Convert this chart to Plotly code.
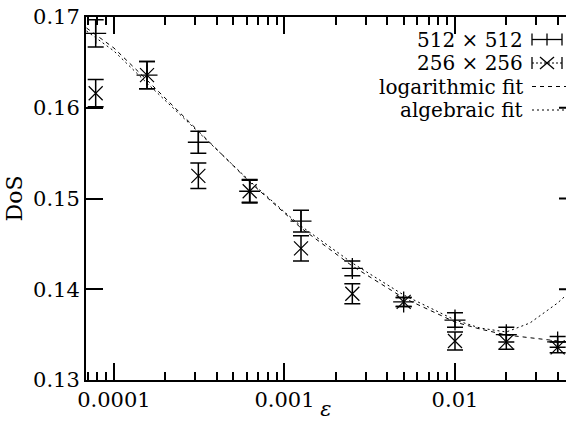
import plotly.graph_objects as go

# ---- data ----
eps = [0.000078125, 0.00015625, 0.0003125, 0.000625, 0.00125, 0.0025, 0.005, 0.01, 0.02, 0.04]
dos_512 = [0.1682, 0.1636, 0.1562, 0.1508, 0.1475, 0.1423, 0.1386, 0.1366, 0.1350, 0.1342]
err_512 = [0.0015, 0.0015, 0.0012, 0.0013, 0.0012, 0.0008, 0.0005, 0.0008, 0.0008, 0.0006]
dos_256 = [0.1616, 0.1636, 0.1525, 0.1508, 0.1445, 0.1395, 0.1386, 0.1343, 0.1342, 0.1336]
err_256 = [0.0015, 0.0015, 0.0014, 0.0012, 0.0014, 0.0011, 0.0005, 0.0010, 0.0008, 0.0006]

fit_eps = [6.9e-5, 1e-4, 1.56e-4, 3.1e-4, 6.25e-4, 1e-3, 1.25e-3, 2.5e-3, 5e-3, 1e-2, 1.4e-2, 2e-2, 2.75e-2, 4e-2, 4.5e-2]
log_fit = [0.16879, 0.16658, 0.16306, 0.15755, 0.15182, 0.14840, 0.14675, 0.14256, 0.13904, 0.13639, 0.13562, 0.13496, 0.13463, 0.13430, 0.13419]
alg_fit = [0.16846, 0.16625, 0.16273, 0.15744, 0.15193, 0.14851, 0.14697, 0.14289, 0.13937, 0.13661, 0.13573, 0.13529, 0.13628, 0.13849, 0.13937]

x_tickvals = [1e-4, 1e-3, 1e-2]
x_ticktext = ["0.0001", "0.001", "0.01"]
x_minor = [7e-5, 8e-5, 9e-5] + [m * 1e-4 for m in range(2, 10)] + [m * 1e-3 for m in range(2, 10)] + [m * 1e-2 for m in range(2, 5)]
y_tickvals = [0.13, 0.14, 0.15, 0.16, 0.17]
y_ticktext = ["0.13", "0.14", "0.15", "0.16", "0.17"]
legend_labels = ["512 × 512", "256 × 256", "logarithmic fit", "algebraic fit"]

FONT = "DejaVu Serif"
W, H = 566, 421
L, R, T, B = 86, 0, 17, 41
PW, PH = W - L - R, H - T - B


def px(xp):
    return (xp - L) / PW


def py(yp):
    return (H - B - yp) / PH


fig = go.Figure()
fig.add_trace(go.Scatter(x=fit_eps, y=log_fit, mode="lines",
                         line=dict(color="black", width=1, dash="4px,4px"), showlegend=False))
fig.add_trace(go.Scatter(x=fit_eps, y=alg_fit, mode="lines",
                         line=dict(color="black", width=1, dash="2px,3px"), showlegend=False))
fig.add_trace(go.Scatter(x=eps, y=dos_512, mode="markers",
                         marker=dict(symbol="cross-thin", size=15, line=dict(color="black", width=1.3)),
                         error_y=dict(type="data", array=err_512, color="black", thickness=1.5, width=8),
                         showlegend=False))
fig.add_trace(go.Scatter(x=eps, y=dos_256, mode="markers",
                         marker=dict(symbol="x-thin", size=14, line=dict(color="black", width=1.2)),
                         error_y=dict(type="data", array=err_256, color="black", thickness=1.5, width=8),
                         showlegend=False))

shapes = []
# right-side ticks (spine lies just outside the canvas)
for v in y_tickvals[1:-1]:
    shapes.append(dict(type="line", xref="paper", yref="y", x0=1 - 7 / PW, x1=1, y0=v, y1=v,
                       line=dict(color="black", width=2)))

# legend samples
rows = [39.5, 63, 86.5, 110]
lw = dict(color="black", width=1.3)
shapes.append(dict(type="line", xref="paper", yref="paper", x0=px(532), x1=px(562), y0=py(rows[0]), y1=py(rows[0]), line=lw))
for xv in (532, 547, 562):
    shapes.append(dict(type="line", xref="paper", yref="paper", x0=px(xv), x1=px(xv), y0=py(rows[0] - 6), y1=py(rows[0] + 6), line=lw))
shapes.append(dict(type="line", xref="paper", yref="paper", x0=px(532), x1=px(562), y0=py(rows[1]), y1=py(rows[1]), line=dict(color="black", width=1, dash="2px,2px")))
for xv in (532, 562):
    shapes.append(dict(type="line", xref="paper", yref="paper", x0=px(xv), x1=px(xv), y0=py(rows[1] - 6), y1=py(rows[1] + 6), line=lw))
shapes.append(dict(type="line", xref="paper", yref="paper", x0=px(540), x1=px(554), y0=py(rows[1] - 6), y1=py(rows[1] + 6), line=lw))
shapes.append(dict(type="line", xref="paper", yref="paper", x0=px(540), x1=px(554), y0=py(rows[1] + 6), y1=py(rows[1] - 6), line=lw))
shapes.append(dict(type="line", xref="paper", yref="paper", x0=px(532), x1=px(566), y0=py(rows[2]), y1=py(rows[2]), line=dict(color="black", width=1, dash="4px,4px")))
shapes.append(dict(type="line", xref="paper", yref="paper", x0=px(532), x1=px(566), y0=py(rows[3]), y1=py(rows[3]), line=dict(color="black", width=1, dash="2px,3px")))

annotations = []
for lab, r in zip(legend_labels, rows):
    annotations.append(dict(text=lab, xref="paper", yref="paper", x=px(524), y=py(r),
                            xanchor="right", yanchor="middle", showarrow=False, borderpad=0,
                            font=dict(family=FONT, size=20, color="black")))

fig.update_layout(
    width=W, height=H,
    margin=dict(l=L, r=R, t=T, b=B, pad=0, autoexpand=False),
    paper_bgcolor="white", plot_bgcolor="white",
    font=dict(family=FONT, size=21, color="black"),
    shapes=shapes, annotations=annotations,
    xaxis=dict(type="log", range=[-4.164, -1.349], automargin=False,
               tickvals=x_tickvals, ticktext=x_ticktext,
               ticks="inside", ticklen=17, tickwidth=2, tickcolor="black",
               minor=dict(tickvals=x_minor, ticks="inside", ticklen=8, tickwidth=2, tickcolor="black", showgrid=False),
               showline=True, linecolor="black", linewidth=2, mirror="ticks",
               showgrid=False, zeroline=False,
               tickfont=dict(family=FONT, size=21),
               title=dict(text="<i>ε</i>", font=dict(family=FONT, size=21), standoff=0)),
    yaxis=dict(range=[0.13, 0.17], tickvals=y_tickvals, ticktext=y_ticktext, automargin=False,
               ticks="inside", ticklen=17, tickwidth=2, tickcolor="black",
               showline=True, linecolor="black", linewidth=2, mirror=False,
               showgrid=False, zeroline=False,
               tickfont=dict(family=FONT, size=21),
               title=dict(text="DoS", font=dict(family=FONT, size=22), standoff=4)),
)

fig.write_html("out.html")
